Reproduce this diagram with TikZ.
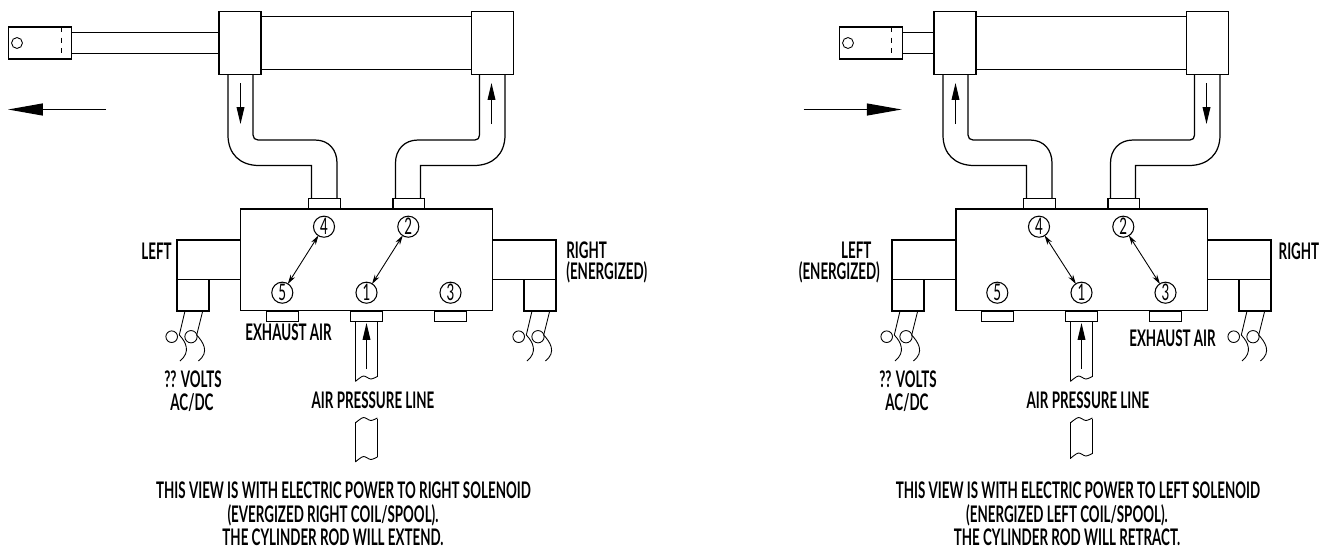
\documentclass[tikz,border=0pt]{standalone}
\usepackage{fontspec}
\setmainfont[FakeStretch=0.585]{Lato}
\usetikzlibrary{arrows.meta}
\tikzset{
  part/.style={draw,fill=white,line width=0.7pt},
  line/.style={line width=0.7pt},
  port/.style={circle,draw,line width=0.6pt,inner sep=0pt,minimum size=12pt,font=\fontsize{13}{13}\selectfont},
  label/.style={inner sep=0pt,text height=9.2pt,text depth=0pt,font=\fontsize{13}{13}\selectfont\bfseries},
  flow/.style={line width=0.6pt,-{Triangle[length=9.6pt,width=4.4pt]}},
  spool/.style={line width=0.5pt,{Stealth[length=5.5pt,width=3pt]}-{Stealth[length=5.5pt,width=3pt]},shorten >=-0.5pt,shorten <=-0.5pt},
  motion/.style={line width=0.7pt,-{Triangle[length=19.8pt,width=6.8pt]}}
}
\newcommand{\airbreak}[1]{
  \draw[line,line width=0.5pt] plot[smooth,tension=0.5] coordinates {(355.3,#1+5.5) (363.3,#1) (370.7,#1+3) (377.4,#1+0.5)};
}
\newcommand{\coilwires}[1]{
  \begin{scope}[shift={(#1,0)}]
    \node[part,circle,fill=none,minimum size=6.6pt,inner sep=0pt,line width=0.5pt] (loopa#1) at (171.7,336.7) {};
    \node[part,circle,fill=none,minimum size=7pt,inner sep=0pt,line width=0.5pt] (loopb#1) at (191,336.7) {};
    \draw[line,line width=0.5pt] (185,311) -- (179.3,335) .. controls (186,342) and (191,352) .. (180,361);
    \draw[line,line width=0.5pt] (202.7,311) -- (196.7,335) .. controls (203,342) and (210,352) .. (198.3,361);
  \end{scope}
}
\begin{document}
\begin{tikzpicture}[x=0.02cm,y=-0.02cm]
  \useasboundingbox (0,0) rectangle (1329,548);
  \foreach \dx/\v/\yend in {0/l/456.5,715/r/453}{
    \begin{scope}[shift={(\dx,0)}]
      % cylinder
      \draw[line] (261,16.5) -- (472,16.5) (261,69.5) -- (472,69.5);
      \node[part,minimum width=23.8pt,minimum height=35.7pt,inner sep=0pt] (\v blocka) at (240,43) {};
      \node[part,minimum width=23.8pt,minimum height=35.7pt,inner sep=0pt] (\v blockb) at (492.5,43) {};
      % tubes
      \draw[line] (228,74.5) -- (228,135) .. controls (228,154) and (240,165.5) .. (259,165.5) -- (311.5,165.5) -- (311.5,198);
      \draw[line] (253,74.5) -- (253,135) .. controls (253,138) and (255,140) .. (258,140) -- (315,140) .. controls (329,140) and (337,150) .. (337,163) -- (337,198);
      \draw[line] (395.5,198) -- (395.5,163) .. controls (395.5,150) and (404,140) .. (418,140) -- (475,140) .. controls (478,140) and (479.5,138) .. (479.5,135) -- (479.5,74.5);
      \draw[line] (420.5,198) -- (420.5,165.5) -- (474,165.5) .. controls (493,165.5) and (505,154) .. (505,135) -- (505,74.5);
      % valve
      \node[part,minimum width=143pt,minimum height=57.8pt,inner sep=0pt] (\v body) at (366.5,259.7) {};
      \node[part,minimum width=18pt,minimum height=5.9pt,inner sep=0pt] (\v topa) at (324.3,203.3) {};
      \node[part,minimum width=18pt,minimum height=5.9pt,inner sep=0pt] (\v topb) at (408.7,203.3) {};
      \node[part,minimum width=18pt,minimum height=5.9pt,inner sep=0pt] (\v bota) at (282.6,316.2) {};
      \node[part,minimum width=18pt,minimum height=5.9pt,inner sep=0pt] (\v botb) at (366.6,316.2) {};
      \node[part,minimum width=18pt,minimum height=5.9pt,inner sep=0pt] (\v botc) at (450.4,316.2) {};
      % solenoids
      \draw[line] (240.5,240) -- (177,240) -- (177,279.5) -- (240.5,279.5);
      \draw[line] (177,279.5) -- (177,311) -- (209,311) -- (209,279.5);
      \draw[line] (492.5,240) -- (556,240) -- (556,279.5) -- (492.5,279.5);
      \draw[line] (556,279.5) -- (556,311) -- (524,311) -- (524,279.5);
      % ports
      \node[port] (\v p4) at (324,226.7) {4};
      \node[port] (\v p2) at (408.3,226.7) {2};
      \node[port] (\v p5) at (282.3,292.7) {5};
      \node[port] (\v p1) at (366.5,292.7) {1};
      \node[port] (\v p3) at (450.5,292.7) {3};
      % air line
      \draw[line] (355.5,321.5) -- (355.5,381) (377.5,321.5) -- (377.5,376.5);
      \draw[line] (355.5,421.5) -- (355.5,\yend+5.5) (377.5,419) -- (377.5,\yend+0.5);
      \airbreak{376}
      \airbreak{417.5}
      \airbreak{\yend}
      \draw[flow] (366.5,369) -- (366.5,323);
      \node[label] (\v air) at (373,400.7) {AIR PRESSURE LINE};
      \node[label] (\v volts) at (193,379) {?? VOLTS};
      \node[label] (\v acdc) at (192,402.7) {AC/DC};
    \end{scope}
  }
  \coilwires{0}
  \coilwires{347}
  \coilwires{715}
  \coilwires{1062}
  % left view
  \node[part,minimum width=36pt,minimum height=18.2pt,inner sep=0pt] (lclevis) at (40,43) {};
  \draw[line,dashed] (61.5,27) -- (61.5,59);
  \node[part,circle,minimum size=6.2pt,inner sep=0pt,line width=0.5pt] (lpin) at (17,43) {};
  \draw[line] (72,32.5) -- (219,32.5) (72,53.5) -- (219,53.5);
  \coordinate (lfrom) at (106,109.5);
  \coordinate (lto) at (8,109.5);
  \draw[motion] (lfrom) -- (lto);
  \draw[flow] (240.5,83) -- (240.5,124);
  \draw[flow] (491.5,124) -- (491.5,83);
  \draw[spool] (lp4) -- (lp5);
  \draw[spool] (lp2) -- (lp1);
  \node[label,anchor=east] (lleft) at (172,251.5) {LEFT};
  \node[label,anchor=west] (lright) at (566,250) {RIGHT};
  \node[label,anchor=west] (lenergized) at (566,271) {(ENERGIZED)};
  \node[label] (lexhaust) at (288.5,332.7) {EXHAUST AIR};
  \node[label] (lnotea) at (343.5,490) {THIS VIEW IS WITH ELECTRIC POWER TO RIGHT SOLENOID};
  \node[label] (lnoteb) at (333,514) {(EVERGIZED RIGHT COIL/SPOOL).};
  \node[label] (lnotec) at (333,537.5) {THE CYLINDER ROD WILL EXTEND.};
  % right view
  \node[part,minimum width=36pt,minimum height=18.2pt,inner sep=0pt] (rclevis) at (871,43) {};
  \draw[line,dashed] (891.7,27) -- (891.7,59);
  \node[part,circle,minimum size=6.2pt,inner sep=0pt,line width=0.5pt] (rpin) at (848,43) {};
  \draw[line] (903,32.5) -- (934,32.5) (903,53.5) -- (934,53.5);
  \coordinate (rfrom) at (803.7,109.5);
  \coordinate (rto) at (901.7,109.5);
  \draw[motion] (rfrom) -- (rto);
  \draw[flow] (955.5,124) -- (955.5,83);
  \draw[flow] (1206.5,83) -- (1206.5,124);
  \draw[spool] (rp4) -- (rp1);
  \draw[spool] (rp2) -- (rp3);
  \node[label,anchor=east] (rleft) at (871.7,250) {LEFT};
  \node[label,anchor=east] (renergized) at (880,271) {(ENERGIZED)};
  \node[label,anchor=west] (rright) at (1278.3,251.5) {RIGHT};
  \node[label] (rexhaust) at (1172.5,338.7) {EXHAUST AIR};
  \node[label] (rnotea) at (1078,490) {THIS VIEW IS WITH ELECTRIC POWER TO LEFT SOLENOID};
  \node[label] (rnoteb) at (1067,514) {(ENERGIZED LEFT COIL/SPOOL).};
  \node[label] (rnotec) at (1067,537.5) {THE CYLINDER ROD WILL RETRACT.};
\end{tikzpicture}
\end{document}
